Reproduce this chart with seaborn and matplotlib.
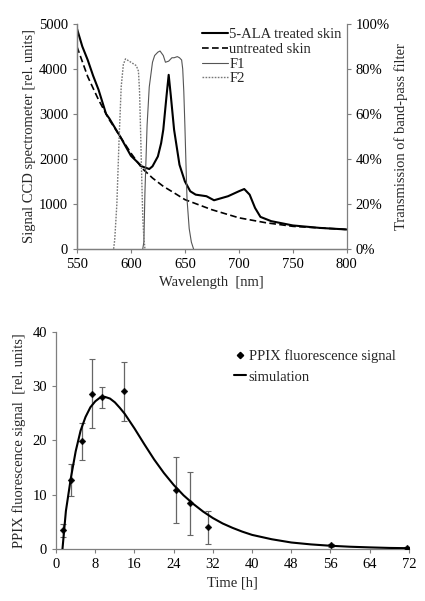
import numpy as np
import pandas as pd
import matplotlib
matplotlib.use("Agg")
import matplotlib.pyplot as plt
import matplotlib.ticker as ticker
from matplotlib.lines import Line2D
import seaborn as sns

# ── data: spectra ────────────────────────────────────────────────────────────
wl_treated = [550, 555, 560, 565, 570, 577, 580, 590, 600, 610, 617, 620, 625, 628,
              630, 633, 635, 637, 640, 645, 650, 655, 660, 670, 677, 690, 700, 705,
              710, 715, 720, 730, 750, 775, 800]
sig_treated = [4900, 4500, 4200, 3850, 3540, 3000, 2900, 2500, 2070, 1835, 1775, 1835,
               2055, 2350, 2650, 3400, 3870, 3400, 2650, 1870, 1500, 1280, 1205, 1170,
               1080, 1170, 1280, 1330, 1205, 910, 710, 615, 520, 465, 430]

wl_untreated = [550, 560, 570, 580, 590, 600, 610, 620, 630, 640, 650, 675, 700, 725,
                750, 775, 800]
sig_untreated = [4500, 3830, 3315, 2870, 2500, 2130, 1800, 1575, 1390, 1245, 1095, 870,
                 690, 580, 500, 465, 430]

wl_f1 = [611, 612, 613, 615, 617, 620, 622, 625, 627, 630, 632, 635, 638, 640, 643,
         645, 647, 648, 649, 650, 651, 652, 654, 656, 658]
tr_f1 = [0, 3, 25, 55, 72, 83, 86, 87.5, 88, 86, 83, 83.5, 85, 85, 85.5, 85, 84, 80,
         70, 55, 38, 22, 9, 3, 0]

wl_f2 = [584, 585, 587, 589, 591, 593, 595, 600, 605, 607, 608, 609, 610, 611, 612, 613]
tr_f2 = [0, 4, 20, 48, 72, 82, 84.5, 83, 81.5, 79, 70, 52, 32, 14, 5, 0]

# ── data: kinetics ───────────────────────────────────────────────────────────
t_meas = [1.5, 3.1, 5.3, 7.3, 9.3, 13.9, 24.4, 27.4, 31.1, 56.2, 71.6]
ppix = [3.45, 12.7, 19.8, 28.6, 27.9, 29.0, 10.8, 8.4, 4.0, 0.7, 0.25]
ppix_err = [1.2, 2.9, 3.4, 6.3, 2.0, 5.5, 6.1, 5.8, 3.0, 0.3, 0.2]

t_sim = [1.3, 2, 3, 4, 5, 6, 7, 8, 9, 10, 11, 12, 13, 14, 16, 18, 20, 22, 24, 26, 28,
         30, 32, 34, 36, 38, 40, 44, 48, 52, 56, 60, 64, 68, 72]
sim = [0, 7, 13, 18, 21.8, 24.3, 26.1, 27.2, 27.9, 28.0, 27.7, 27.0, 26.0, 24.9, 22.2,
       19.3, 16.5, 14.0, 11.8, 9.9, 8.3, 6.9, 5.7, 4.7, 3.9, 3.2, 2.6, 1.8, 1.2, 0.85,
       0.6, 0.42, 0.3, 0.2, 0.15]

# ── style ────────────────────────────────────────────────────────────────────
sns.set_style("ticks")
plt.rcParams["font.family"] = ["Liberation Serif", "DejaVu Serif"]
plt.rcParams["font.size"] = 10.5
GRAY = "#7f7f7f"
FS = 10.5

fig = plt.figure(figsize=(4.25, 6.01), dpi=100)
ax1 = fig.add_axes([0.181, 0.586, 0.635, 0.374])
ax2 = ax1.twinx()
ax3 = fig.add_axes([0.132, 0.0865, 0.830, 0.3615])

def style_axis(ax):
    for s in ax.spines.values():
        s.set_color(GRAY)
        s.set_linewidth(0.9)
    ax.tick_params(colors=GRAY, labelcolor="black", length=3, width=0.8, labelsize=FS)

# ── top panel ────────────────────────────────────────────────────────────────
sns.lineplot(x=wl_treated, y=sig_treated, ax=ax1, color="black", lw=1.5, sort=False)
sns.lineplot(x=wl_untreated, y=sig_untreated, ax=ax1, color="black", lw=1.2,
             linestyle=(0, (4, 2)), sort=False)
sns.lineplot(x=wl_f1, y=tr_f1, ax=ax2, color="#555555", lw=0.8, sort=False)
sns.lineplot(x=wl_f2, y=tr_f2, ax=ax2, color="#777777", lw=1.0,
             linestyle=(0, (1.2, 1)), sort=False)

ax1.set_xlim(550, 800)
ax1.set_ylim(0, 5000)
ax2.set_ylim(0, 100)
ax1.set_xticks(range(550, 801, 50))
ax1.set_yticks(range(0, 5001, 1000))
ax2.set_yticks(range(0, 101, 20))
ax2.yaxis.set_major_formatter(ticker.FuncFormatter(lambda v, p: f"{v:.0f}%"))
ax1.set_xlabel("Wavelength  [nm]", fontsize=FS)
ax1.set_ylabel("Signal CCD spectrometer [rel. units]", fontsize=FS, labelpad=2)
ax2.set_ylabel("Transmission of band-pass filter", fontsize=FS, labelpad=3)
for ax in (ax1, ax2):
    style_axis(ax)
    ax.spines["top"].set_visible(False)
ax1.spines["right"].set_visible(False)

handles = [Line2D([], [], color="black", lw=1.5),
           Line2D([], [], color="black", lw=1.2, linestyle=(0, (4, 2))),
           Line2D([], [], color="#555555", lw=0.8),
           Line2D([], [], color="#777777", lw=1.0, linestyle=(0, (1.2, 1)))]
ax1.legend(handles, ["5-ALA treated skin", "untreated skin", "F1", "F2"],
           loc="upper right", bbox_to_anchor=(1.03, 1.04), frameon=False,
           handlelength=1.8, handletextpad=0.1, labelspacing=0.1, fontsize=FS)

# ── bottom panel ─────────────────────────────────────────────────────────────
ax3.errorbar(t_meas, ppix, yerr=ppix_err, fmt="none", ecolor="#666666",
             elinewidth=0.9, capsize=2, capthick=0.8, zorder=2)
sns.lineplot(x=t_sim, y=sim, ax=ax3, color="black", lw=1.5, zorder=3)
sns.scatterplot(x=t_meas, y=ppix, ax=ax3, marker="D", s=12, color="black",
                edgecolor="black", zorder=4)
ax3.set_xlim(0, 72)
ax3.set_ylim(0, 40)
ax3.set_xticks(range(0, 73, 8))
ax3.set_yticks(range(0, 41, 10))
ax3.set_xlabel("Time [h]", fontsize=FS)
ax3.set_ylabel("PPIX fluorescence signal  [rel. units]", fontsize=FS, labelpad=5)
style_axis(ax3)
sns.despine(ax=ax3)

h2 = [Line2D([], [], color="black", marker="D", markersize=3.2, lw=0),
      Line2D([], [], color="black", lw=1.5)]
ax3.legend(h2, ["PPIX fluorescence signal", "simulation"], loc="upper right",
           bbox_to_anchor=(1.0, 0.98), frameon=False, handlelength=0.8,
           handletextpad=0.2, labelspacing=0.5, fontsize=FS)

fig.savefig("out.png", dpi=100)
